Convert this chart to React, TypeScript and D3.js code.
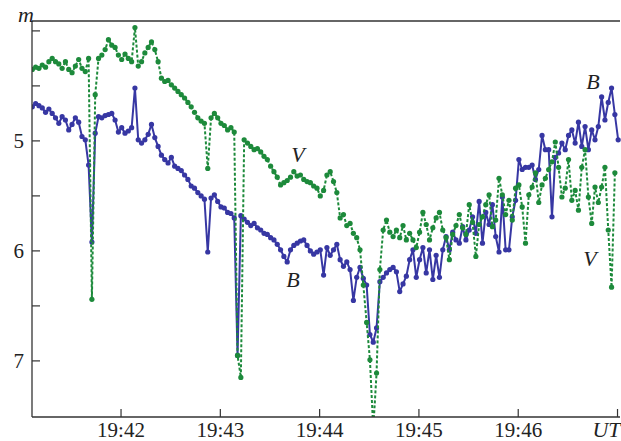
import * as d3 from "d3";

// time of first sample, seconds after 19:41:00, and sampling step
const T0 = 6.4;
const STEP = 2;

// V magnitude (green, dashed)
const vMag = [
  4.35, 4.33, 4.34, 4.31, 4.33, 4.28, 4.25, 4.28, 4.30, 4.34, 4.28, 4.35, 4.38, 4.32, 4.26, 4.34, 4.37, 4.25, 6.44, 4.58,
  4.25, 4.22, 4.17, 4.08, 4.13, 4.15, 4.22, 4.26, 4.21, 4.25, 4.28, 3.97, 4.32, 4.28, 4.20, 4.15, 4.10, 4.17, 4.28, 4.43,
  4.46, 4.45, 4.49, 4.52, 4.55, 4.58, 4.61, 4.65, 4.69, 4.74, 4.79, 4.82, 4.84, 5.25, 4.79, 4.75, 4.79, 4.84, 4.86, 4.90,
  4.88, 4.92, 6.95, 7.15, 4.99, 5.02, 5.05, 5.08, 5.07, 5.10, 5.14, 5.17, 5.23, 5.28, 5.33, 5.40, 5.38, 5.36, 5.33, 5.28,
  5.32, 5.31, 5.35, 5.37, 5.38, 5.41, 5.43, 5.50, 5.45, 5.31, 5.28, 5.37, 5.47, 5.70, 5.67, 5.77, 5.75, 5.84, 5.88, 5.99,
  6.31, 6.65, 6.99, 7.62, 7.11, 6.17, 5.81, 5.72, 5.83, 5.87, 5.81, 5.88, 5.77, 5.90, 5.84, 5.90, 5.97, 5.83, 5.65, 5.76,
  5.90, 5.79, 5.70, 5.65, 5.81, 5.88, 6.08, 5.85, 5.77, 5.67, 5.79, 5.85, 5.58, 5.74, 6.05, 5.76, 5.69, 5.58, 5.49, 5.78,
  5.72, 5.34, 5.49, 5.67, 5.54, 5.72, 5.43, 5.40, 5.60, 5.93, 5.49, 5.42, 5.29, 5.56, 5.40, 5.34, 5.26, 5.19, 5.01, 5.24,
  5.51, 5.43, 5.17, 5.54, 5.45, 5.63, 5.24, 5.08, 5.51, 5.75, 5.42, 5.56, 5.42, 5.24, 5.81, 6.33, 5.29,
];

// B magnitude (blue, solid)
const bMag = [
  4.69, 4.66, 4.68, 4.70, 4.74, 4.71, 4.75, 4.79, 4.84, 4.78, 4.81, 4.90, 4.85, 4.79, 4.83, 4.96, 4.99, 5.22, 5.92, 4.93,
  4.78, 4.79, 4.77, 4.76, 4.75, 4.81, 4.92, 4.88, 4.93, 4.91, 4.88, 4.52, 4.99, 5.02, 4.99, 4.94, 4.85, 4.97, 5.05, 5.13,
  5.17, 5.20, 5.15, 5.23, 5.25, 5.27, 5.31, 5.35, 5.41, 5.43, 5.47, 5.50, 5.53, 6.01, 5.52, 5.49, 5.55, 5.60, 5.61, 5.65,
  5.66, 5.70, 6.95, 5.68, 5.71, 5.74, 5.77, 5.75, 5.79, 5.81, 5.84, 5.85, 5.88, 5.90, 5.94, 5.99, 6.05, 6.10, 5.99, 5.95,
  5.93, 5.91, 5.90, 5.95, 6.00, 6.03, 6.01, 5.99, 6.22, 5.97, 6.04, 5.99, 5.94, 6.08, 6.14, 6.10, 6.17, 6.45, 6.24, 6.15,
  6.25, 6.31, 6.76, 6.83, 6.70, 6.28, 6.24, 6.20, 6.17, 6.15, 6.19, 6.37, 6.30, 6.23, 6.08, 5.99, 6.24, 6.08, 5.97, 6.20,
  5.99, 6.26, 6.04, 6.24, 5.99, 5.87, 5.99, 5.83, 5.90, 5.93, 5.78, 5.90, 5.81, 5.69, 5.84, 5.55, 5.93, 5.65, 5.76, 5.58,
  5.87, 6.01, 5.51, 5.99, 5.99, 5.69, 5.54, 5.17, 5.26, 5.24, 5.24, 5.22, 5.35, 5.26, 4.95, 5.08, 5.08, 5.69, 5.15, 5.11,
  5.02, 5.08, 4.95, 4.90, 5.02, 4.83, 5.05, 4.87, 5.08, 4.90, 4.99, 4.87, 4.60, 4.81, 4.65, 4.52, 4.76, 4.99,
];

const yTickValues = [4, 4.5, 5, 5.5, 6, 6.5, 7];
const yLabelValues = [5, 6, 7];
const xTickSeconds = [60, 120, 180, 240, 300, 360];
const xTickLabels = ["19:42", "19:43", "19:44", "19:45", "19:46", "UT"];

const width = 621;
const height = 441;
const margin = { top: 21, right: 1, bottom: 24, left: 32 };
const serif = "'Liberation Serif', 'Times New Roman', serif";
const blue = "#3737a3";
const green = "#1d8a3b";

export default function App() {
  const innerW = width - margin.left - margin.right;
  const innerH = height - margin.top - margin.bottom;

  const x = d3.scaleLinear().domain([6.2, 361.5]).range([0, innerW]);
  const y = d3.scaleLinear().domain([3.91, 7.51]).range([0, innerH]);

  const toPoints = (arr: number[]) => arr.map((m, i) => ({ t: T0 + i * STEP, m }));
  const vPts = toPoints(vMag);
  const bPts = toPoints(bMag);

  const line = d3
    .line<{ t: number; m: number }>()
    .x((d) => x(d.t))
    .y((d) => y(d.m));

  const labelStyle = { fontFamily: serif, fontSize: 21, fill: "#222" };
  const italicStyle = { ...labelStyle, fontStyle: "italic" as const, fontSize: 22 };

  return (
    <div style={{ position: "fixed", left: 0, top: 0 }}>
      <svg width={width} height={height} style={{ display: "block", background: "#fff" }}>
        <defs>
          <clipPath id="plotClip">
            <rect x={0} y={0} width={innerW + 1} height={innerH} />
          </clipPath>
        </defs>
        <g transform={`translate(${margin.left},${margin.top})`}>
          <g clipPath="url(#plotClip)">
            <path d={line(bPts) ?? ""} fill="none" stroke={blue} strokeWidth={2} strokeLinejoin="round" />
            {bPts.map((d, i) => (
              <circle key={`b-${i}`} cx={x(d.t)} cy={y(d.m)} r={2.6} fill={blue} />
            ))}
            <path
              d={line(vPts) ?? ""}
              fill="none"
              stroke={green}
              strokeWidth={2}
              strokeDasharray="3 2"
              strokeLinejoin="round"
            />
            {vPts.map((d, i) => (
              <circle key={`v-${i}`} cx={x(d.t)} cy={y(d.m)} r={2.6} fill={green} />
            ))}
          </g>

          {/* frame */}
          <line x1={0} x2={0} y1={0} y2={innerH} stroke="#333" strokeWidth={1.3} />
          <line x1={0} x2={innerW} y1={innerH} y2={innerH} stroke="#333" strokeWidth={1.3} />
          <line x1={0} x2={innerW} y1={0} y2={0} stroke="#333" strokeWidth={1.3} />

          {yTickValues.map((v) => (
            <line key={`yt-${v}`} x1={0} x2={8} y1={y(v)} y2={y(v)} stroke="#333" strokeWidth={1.2} />
          ))}
          {yLabelValues.map((v) => (
            <text key={`yl-${v}`} x={-8} y={y(v) + 7} textAnchor="end" style={labelStyle}>
              {v}
            </text>
          ))}
          <text x={-14} y={1} style={italicStyle}>
            m
          </text>

          {xTickSeconds.map((s, i) => {
            const last = i === xTickLabels.length - 1;
            return (
              <g key={`xt-${s}`}>
                <line x1={x(s)} x2={x(s)} y1={innerH} y2={innerH - 8} stroke="#333" strokeWidth={1.2} />
                <text
                  x={last ? x(s) + 3 : x(s)}
                  y={innerH + 20}
                  textAnchor={last ? "end" : "middle"}
                  style={last ? italicStyle : labelStyle}
                >
                  {xTickLabels[i]}
                </text>
              </g>
            );
          })}

          <text x={298 - margin.left} y={162 - margin.top} textAnchor="middle" style={italicStyle}>
            V
          </text>
          <text x={293 - margin.left} y={287 - margin.top} textAnchor="middle" style={italicStyle}>
            B
          </text>
          <text x={593 - margin.left} y={89 - margin.top} textAnchor="middle" style={italicStyle}>
            B
          </text>
          <text x={590 - margin.left} y={266 - margin.top} textAnchor="middle" style={italicStyle}>
            V
          </text>
        </g>
      </svg>
    </div>
  );
}
